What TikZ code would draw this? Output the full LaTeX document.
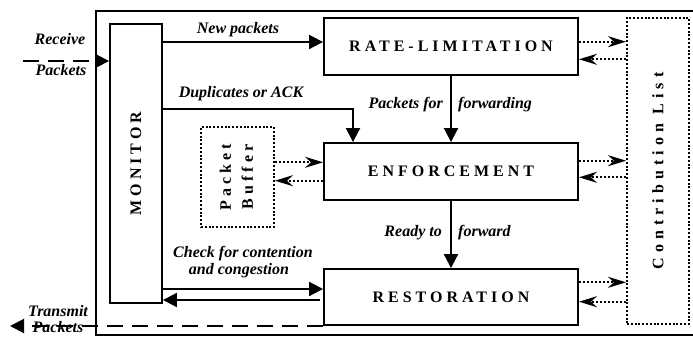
\documentclass[tikz,border=0pt]{standalone}
\usepackage{fontspec}
\usepackage{graphicx}
\setmainfont{Liberation Serif}
\newfontfamily\boxfont[LetterSpace=25]{Liberation Serif}
\newfontfamily\listfont[LetterSpace=32]{Liberation Serif}
\usetikzlibrary{arrows.meta}

\begin{document}
\begin{tikzpicture}[x=1pt, y=-1pt,
    block/.style={draw, line width=1.9pt, inner sep=0pt, font=\boxfont\bfseries\fontsize{16}{22}\selectfont},
    dotbox/.style={block, line width=2pt, dash pattern=on 2pt off 1.8pt},
    lbl/.style={inner sep=0pt, font=\bfseries\itshape\fontsize{16}{18}\selectfont},
    flow/.style={line width=2pt, -{Triangle[length=14pt,width=14pt]}},
    pktflow/.style={flow, dash pattern=on 16pt off 9pt},
    dotflow/.style={line width=2pt, dash pattern=on 2pt off 2pt, -{Stealth[length=18pt,width=11pt,inset=6pt]}}]
    \useasboundingbox (0,0) rectangle (693,337);

    % outer frame
    \draw[line width=2.4pt] (96,11) rectangle (730,335);

    % blocks
    \node[block, minimum width=52pt, minimum height=279pt] (mon) at (136,163.5) {\rotatebox{90}{MONITOR}};
    \node[block, minimum width=254pt, minimum height=57pt] (rate) at (451,46.5) {RATE-LIMITATION};
    \node[block, minimum width=254pt, minimum height=57pt] (enf) at (451,171.5) {ENFORCEMENT};
    \node[block, minimum width=254pt, minimum height=56pt] (rest) at (451,297) {RESTORATION};
    \node[dotbox, minimum width=73pt, minimum height=100pt] (buf) at (237.5,177)
        {\rotatebox{90}{\begin{tabular}{@{}c@{}}Packet\\Buffer\end{tabular}}};
    \node[dotbox, minimum width=62pt, minimum height=306pt] (contrib) at (658,171) {\rotatebox{90}{\listfont Contribution List}};

    % packets in and out
    \coordinate (rx) at (23,61);
    \coordinate (tx) at (10,326);
    \draw[pktflow] (rx) -- (rx -| mon.west);
    \draw[pktflow] (tx -| rest.west) -- (tx);
    \node[lbl] (rxtop) at (60,39) {Receive};
    \node[lbl] (rxbot) at (61,70) {Packets};
    \node[lbl] (txtop) at (58,311) {Transmit};
    \node[lbl] (txbot) at (58,327.5) {Packets};

    % solid flows
    \draw[flow] ([yshift=4.5pt]rate.west -| mon.east) -- ([yshift=4.5pt]rate.west);
    \node[lbl] (newlbl) at (238,29.5) {New packets};
    \coordinate (dup) at (353,109);
    \draw[flow] (dup -| mon.east) -- (dup) -- (dup |- enf.north);
    \node[lbl] (duplbl) at (241,94) {Duplicates or ACK};
    \draw[flow] (rate.south) -- (enf.north);
    \node[lbl, anchor=east] (fwdA) at (443,105) {Packets for};
    \node[lbl, anchor=west] (fwdB) at (458,105) {forwarding};
    \draw[flow] (enf.south) -- (rest.north);
    \node[lbl, anchor=east] (rdyA) at (442,233) {Ready to};
    \node[lbl, anchor=west] (rdyB) at (458,233) {forward};
    \draw[flow] ([yshift=8pt]rest.west -| mon.east) -- ([yshift=8pt]rest.west);
    \draw[flow] ([yshift=-3pt,xshift=-3pt]rest.west) -- ([yshift=-3pt]rest.west -| mon.east);
    \node[lbl] (chkA) at (243,254) {Check for contention};
    \node[lbl] (chkB) at (239,271) {and congestion};

    % dotted flows
    \draw[dotflow] ([yshift=9.2pt]enf.west -| buf.east) -- ([yshift=9.2pt]enf.west);
    \draw[dotflow] ([yshift=-9.2pt]enf.west) -- ([yshift=-9.2pt]enf.west -| buf.east);
    \draw[dotflow] ([yshift=4.8pt]rate.east) -- ([yshift=4.8pt]rate.east -| contrib.west);
    \draw[dotflow] ([yshift=-12.8pt]rate.east -| contrib.west) -- ([yshift=-12.8pt]rate.east);
    \draw[dotflow] ([yshift=10.8pt]enf.east) -- ([yshift=10.8pt]enf.east -| contrib.west);
    \draw[dotflow] ([yshift=-5.8pt]enf.east -| contrib.west) -- ([yshift=-5.8pt]enf.east);
    \draw[dotflow] ([yshift=14.7pt]rest.east) -- ([yshift=14.7pt]rest.east -| contrib.west);
    \draw[dotflow] ([yshift=-4.7pt]rest.east -| contrib.west) -- ([yshift=-4.7pt]rest.east);
\end{tikzpicture}
\end{document}
